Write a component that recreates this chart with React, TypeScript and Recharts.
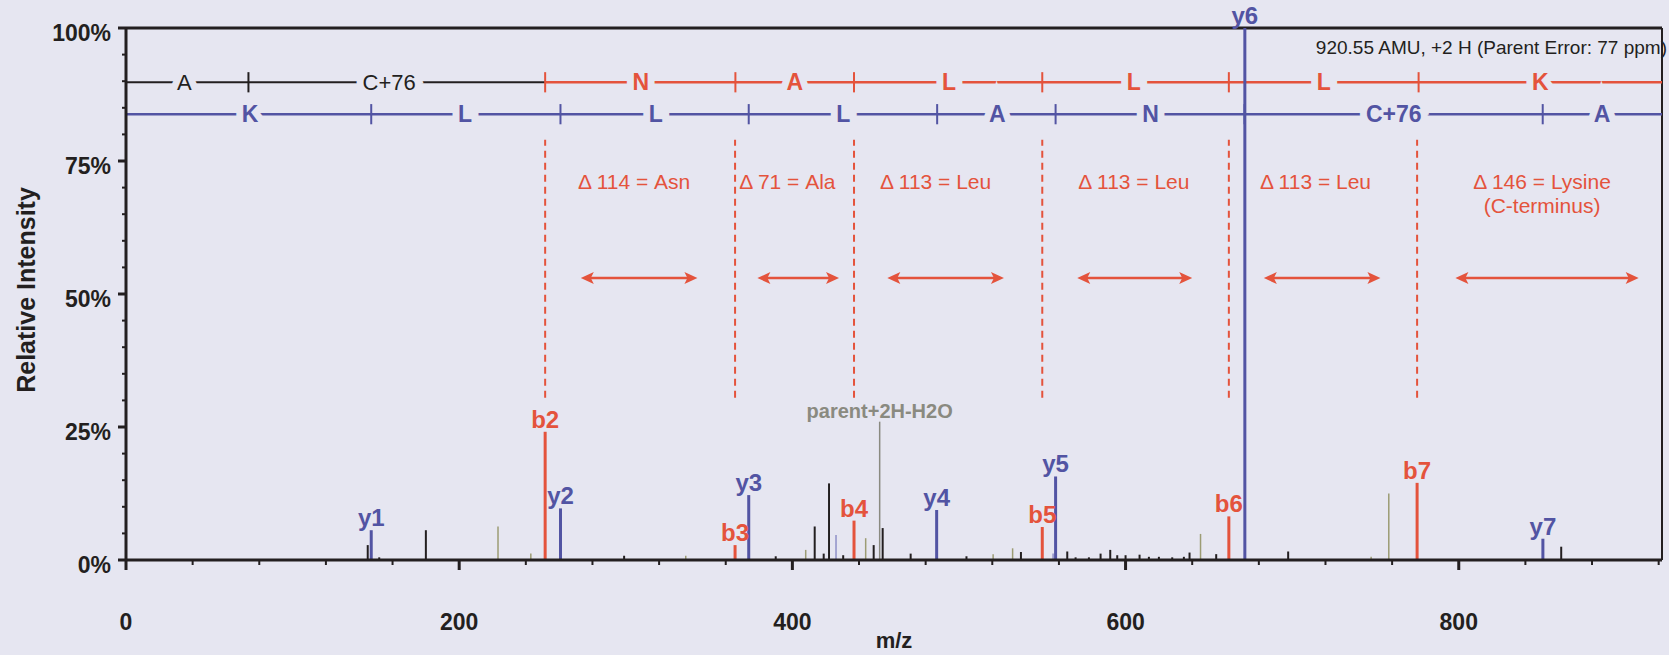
import React from "react";
import { ComposedChart, XAxis, YAxis, Scatter, ReferenceLine } from "recharts";

const BG = "#e6e6f1";
const RED = "#e4533c";
const BLUE = "#5254a3";
const INK = "#231f20";
const OLIVE = "#9c9c74";
const GREY = "#8a8a80";
const FONT = '"Liberation Sans", Arial, Helvetica, sans-serif';

const X_MAX = 922;
const xTicks = Array.from({ length: 24 }, (_, i) => i * 40);
const yTicks = Array.from({ length: 21 }, (_, i) => i * 5);

// assigned fragment ions: m/z, relative intensity (%)
const bIons = [
  { x: 251.6, y: 24.1, label: "b2" },
  { x: 365.6, y: 2.8, label: "b3" },
  { x: 437.0, y: 7.4, label: "b4" },
  { x: 550.0, y: 6.2, label: "b5" },
  { x: 662.0, y: 8.2, label: "b6" },
  { x: 775.0, y: 14.5, label: "b7" },
];
const yIons = [
  { x: 147.2, y: 5.6, label: "y1" },
  { x: 260.8, y: 9.7, label: "y2" },
  { x: 373.8, y: 12.2, label: "y3" },
  { x: 486.6, y: 9.4, label: "y4" },
  { x: 558.0, y: 15.7, label: "y5" },
  { x: 671.6, y: 100, label: "y6" },
  { x: 850.5, y: 4.0, label: "y7" },
];
const parentPeak = [{ x: 452.4, y: 26.0, label: "parent+2H-H2O" }];

// unassigned peaks
const blackPeaks = [
  { x: 145.1, y: 2.8 }, { x: 152, y: 0.5 }, { x: 180, y: 5.6 }, { x: 299, y: 0.8 },
  { x: 390, y: 0.7 }, { x: 413.4, y: 6.3 }, { x: 418.8, y: 1.2 }, { x: 422, y: 14.4 },
  { x: 430.5, y: 0.9 }, { x: 448.8, y: 2.8 }, { x: 454.2, y: 6.0 }, { x: 471, y: 1.2 },
  { x: 504.5, y: 0.7 }, { x: 537.2, y: 1.5 }, { x: 565, y: 1.6 }, { x: 570, y: 0.5 },
  { x: 578, y: 0.5 }, { x: 585, y: 1.2 }, { x: 590.8, y: 1.9 }, { x: 595, y: 0.9 },
  { x: 600, y: 0.9 }, { x: 608.4, y: 1.0 }, { x: 614, y: 0.6 }, { x: 620, y: 0.6 },
  { x: 628, y: 0.5 }, { x: 635, y: 0.6 }, { x: 638.4, y: 1.4 }, { x: 654.4, y: 1.1 },
  { x: 697.6, y: 1.6 }, { x: 861.5, y: 2.5 },
];
const olivePeaks = [
  { x: 223.3, y: 6.3 }, { x: 243, y: 1.2 }, { x: 336, y: 0.8 }, { x: 408, y: 1.9 },
  { x: 444, y: 4.1 }, { x: 520.5, y: 1.1 }, { x: 532.2, y: 2.2 }, { x: 645, y: 4.9 },
  { x: 747.4, y: 0.6 }, { x: 758, y: 12.5 },
];
const paleBluePeaks = [{ x: 426.2, y: 4.7 }, { x: 556.5, y: 1.2 }];

// sequence ladders
const B_LADDER_Y = 89.8;
const Y_LADDER_Y = 83.8;
const bLadderTicks = [73.5, 251.6, 365.8, 437, 550, 662, 775.9];
const bLadderLabels = [
  { x: 35, y: B_LADDER_Y, text: "A", plain: true },
  { x: 158, y: B_LADDER_Y, text: "C+76", plain: true },
  { x: 309, y: B_LADDER_Y, text: "N" },
  { x: 401.5, y: B_LADDER_Y, text: "A" },
  { x: 494, y: B_LADDER_Y, text: "L" },
  { x: 605, y: B_LADDER_Y, text: "L" },
  { x: 719, y: B_LADDER_Y, text: "L" },
  { x: 849, y: B_LADDER_Y, text: "K" },
];
const yLadderTicks = [147.2, 260.8, 373.8, 486.9, 558, 671.4, 850.4];
const yLadderLabels = [
  { x: 74.4, y: Y_LADDER_Y, text: "K" },
  { x: 203.5, y: Y_LADDER_Y, text: "L" },
  { x: 318, y: Y_LADDER_Y, text: "L" },
  { x: 430.5, y: Y_LADDER_Y, text: "L" },
  { x: 523, y: Y_LADDER_Y, text: "A" },
  { x: 615, y: Y_LADDER_Y, text: "N" },
  { x: 761, y: Y_LADDER_Y, text: "C+76" },
  { x: 886, y: Y_LADDER_Y, text: "A" },
];

// mass-difference annotations
const deltaLabels = [
  { x: 305, y: 71.1, text: "Δ 114 = Asn" },
  { x: 397, y: 71.1, text: "Δ 71 = Ala" },
  { x: 486, y: 71.1, text: "Δ 113 = Leu" },
  { x: 605, y: 71.1, text: "Δ 113 = Leu" },
  { x: 714, y: 71.1, text: "Δ 113 = Leu" },
  { x: 850, y: 71.1, text: "Δ 146 = Lysine" },
  { x: 850, y: 66.5, text: "(C-terminus)" },
];
const deltaArrows = [
  [273, 343], [379, 428], [457, 527], [571, 640], [683, 753], [798, 908],
];
const ARROW_Y = 53;
const DASH_TOP = 79;
const DASH_BOTTOM = 30.5;
const headerText = [{ x: X_MAX, y: 96.4, text: "920.55 AMU, +2 H (Parent Error: 77 ppm)" }];

const XTick = (props: any) => {
  const { x, y, payload } = props;
  const v = payload.value;
  const major = v % 200 === 0;
  return (
    <g>
      <line x1={x} x2={x} y1={y} y2={y + (major ? 10 : 5)} stroke={INK} strokeWidth={major ? 3 : 2} />
      {major && (
        <text x={x} y={y + 70} textAnchor="middle" fontSize={23} fontWeight="bold" fill={INK} fontFamily={FONT}>
          {v}
        </text>
      )}
    </g>
  );
};

const YTick = (props: any) => {
  const { x, y, payload } = props;
  const v = payload.value;
  const major = v % 25 === 0;
  return (
    <g>
      <line x1={x} x2={x - (major ? 8 : 4)} y1={y} y2={y} stroke={INK} strokeWidth={major ? 3 : 2} />
      {major && (
        <text x={x - 15} y={y + 13} textAnchor="end" fontSize={23} fontWeight="bold" fill={INK} fontFamily={FONT}>
          {v}%
        </text>
      )}
    </g>
  );
};

const ionLabel = (color: string, size = 24) => (props: any) => {
  const { cx, cy, payload } = props;
  return (
    <text x={cx} y={cy - 4} textAnchor="middle" fontSize={size} fontWeight="bold" fill={color} fontFamily={FONT}>
      {payload.label}
    </text>
  );
};

const ladderLabel = (color: string) => (props: any) => {
  const { cx, cy, payload } = props;
  const plain = payload.plain;
  return (
    <text
      x={cx}
      y={cy + 8}
      textAnchor="middle"
      fontSize={plain ? 22 : 23}
      fontWeight={plain ? "normal" : "bold"}
      fill={plain ? INK : color}
      stroke={BG}
      strokeWidth={14}
      paintOrder="stroke"
      fontFamily={FONT}
    >
      {payload.text}
    </text>
  );
};

const deltaText = (props: any) => {
  const { cx, cy, payload } = props;
  return (
    <text x={cx} y={cy + 7} textAnchor="middle" fontSize={21} fill={RED} fontFamily={FONT}>
      {payload.text}
    </text>
  );
};

const headerShape = (props: any) => {
  const { cx, cy, payload } = props;
  return (
    <text x={cx + 5} y={cy + 7} textAnchor="end" fontSize={19} fill={INK} fontFamily={FONT}>
      {payload.text}
    </text>
  );
};

const ArrowShape = (p: any) => {
  const { x1, y1, x2, y2 } = p;
  const a = Math.min(x1, x2);
  const b = Math.max(x1, x2);
  const h = 13;
  const w = 6;
  return (
    <g>
      <line x1={a + 6} x2={b - 6} y1={y1} y2={y2} stroke={RED} strokeWidth={2.5} />
      <polygon points={`${a},${y1} ${a + h},${y1 - w} ${a + h - 3},${y1} ${a + h},${y1 + w}`} fill={RED} />
      <polygon points={`${b},${y1} ${b - h},${y1 - w} ${b - h + 3},${y1} ${b - h},${y1 + w}`} fill={RED} />
    </g>
  );
};

const peakLine = (p: { x: number; y: number }, color: string, width: number, key: string) => (
  <ReferenceLine
    key={key}
    segment={[{ x: p.x, y: 0 }, { x: p.x, y: p.y }]}
    stroke={color}
    strokeWidth={width}
    ifOverflow="visible"
  />
);

export default function App() {
  return (
    <div
      style={{
        position: "absolute",
        left: 0,
        top: 0,
        width: 1669,
        height: 655,
        background: BG,
        fontFamily: FONT,
      }}
    >
      <ComposedChart width={1669} height={655} margin={{ top: 28, right: 7, left: 0, bottom: 0 }}>
        <XAxis
          type="number"
          dataKey="x"
          domain={[0, X_MAX]}
          ticks={xTicks}
          interval={0}
          tick={<XTick />}
          tickLine={false}
          tickSize={0}
          tickMargin={0}
          height={95}
          axisLine={{ stroke: INK, strokeWidth: 3 }}
          label={{
            content: (lp: any) => {
              const vb = lp.viewBox;
              return (
                <text x={vb.x + vb.width / 2} y={vb.y + 88} textAnchor="middle" fontSize={22} fontWeight="bold" fill={INK} fontFamily={FONT}>
                  m/z
                </text>
              );
            },
          }}
        />
        <YAxis
          type="number"
          dataKey="y"
          domain={[0, 100]}
          ticks={yTicks}
          interval={0}
          tick={<YTick />}
          tickLine={false}
          tickSize={0}
          tickMargin={0}
          width={126}
          axisLine={{ stroke: INK, strokeWidth: 3 }}
          label={{
            content: (lp: any) => {
              const vb = lp.viewBox;
              const cx = vb.x + 26;
              const cy = vb.y + vb.height / 2 - 4;
              return (
                <text x={cx} y={cy} transform={`rotate(-90 ${cx} ${cy})`} dy={9} textAnchor="middle" fontSize={25} fontWeight="bold" fill={INK} fontFamily={FONT}>
                  Relative Intensity
                </text>
              );
            },
          }}
        />

        {/* frame */}
        <ReferenceLine y={100} stroke={INK} strokeWidth={3} />
        <ReferenceLine x={X_MAX} stroke={INK} strokeWidth={2} />

        {/* dashed b-ion guides */}
        {bIons.map((b, i) => (
          <ReferenceLine
            key={`dash-${i}`}
            segment={[{ x: b.x, y: DASH_BOTTOM }, { x: b.x, y: DASH_TOP }]}
            stroke={RED}
            strokeWidth={2}
            strokeDasharray="7 5"
          />
        ))}

        {/* arrows */}
        {deltaArrows.map((a, i) => (
          <ReferenceLine
            key={`arr-${i}`}
            segment={[{ x: a[0], y: ARROW_Y }, { x: a[1], y: ARROW_Y }]}
            shape={ArrowShape}
          />
        ))}

        {/* ladders */}
        <ReferenceLine segment={[{ x: 0, y: B_LADDER_Y }, { x: bLadderTicks[1], y: B_LADDER_Y }]} stroke={INK} strokeWidth={2} />
        <ReferenceLine segment={[{ x: bLadderTicks[1], y: B_LADDER_Y }, { x: X_MAX, y: B_LADDER_Y }]} stroke={RED} strokeWidth={2.5} />
        <ReferenceLine segment={[{ x: 0, y: Y_LADDER_Y }, { x: X_MAX, y: Y_LADDER_Y }]} stroke={BLUE} strokeWidth={2.5} />
        {bLadderTicks.map((t, i) => (
          <ReferenceLine
            key={`bt-${i}`}
            segment={[{ x: t, y: B_LADDER_Y - 1.9 }, { x: t, y: B_LADDER_Y + 1.9 }]}
            stroke={i === 0 ? INK : RED}
            strokeWidth={2}
          />
        ))}
        {yLadderTicks.map((t, i) => (
          <ReferenceLine
            key={`yt-${i}`}
            segment={[{ x: t, y: Y_LADDER_Y - 1.9 }, { x: t, y: Y_LADDER_Y + 1.9 }]}
            stroke={BLUE}
            strokeWidth={2}
          />
        ))}

        {/* peaks */}
        {olivePeaks.map((p, i) => peakLine(p, OLIVE, 1.5, `ol-${i}`))}
        {paleBluePeaks.map((p, i) => peakLine(p, "#8f90c8", 1.5, `pb-${i}`))}
        {blackPeaks.map((p, i) => peakLine(p, INK, 2, `bk-${i}`))}
        {parentPeak.map((p, i) => peakLine(p, GREY, 1.5, `pp-${i}`))}
        {bIons.map((p, i) => peakLine(p, RED, 3, `bi-${i}`))}
        {yIons.map((p, i) => peakLine(p, BLUE, 3, `yi-${i}`))}

        {/* text */}
        <Scatter data={bLadderLabels} shape={ladderLabel(RED)} isAnimationActive={false} />
        <Scatter data={yLadderLabels} shape={ladderLabel(BLUE)} isAnimationActive={false} />
        <Scatter data={deltaLabels} shape={deltaText} isAnimationActive={false} />
        <Scatter data={headerText} shape={headerShape} isAnimationActive={false} />
        <Scatter data={bIons} shape={ionLabel(RED)} isAnimationActive={false} />
        <Scatter data={yIons} shape={ionLabel(BLUE)} isAnimationActive={false} />
        <Scatter data={parentPeak} shape={ionLabel(GREY, 20)} isAnimationActive={false} />
      </ComposedChart>
    </div>
  );
}
